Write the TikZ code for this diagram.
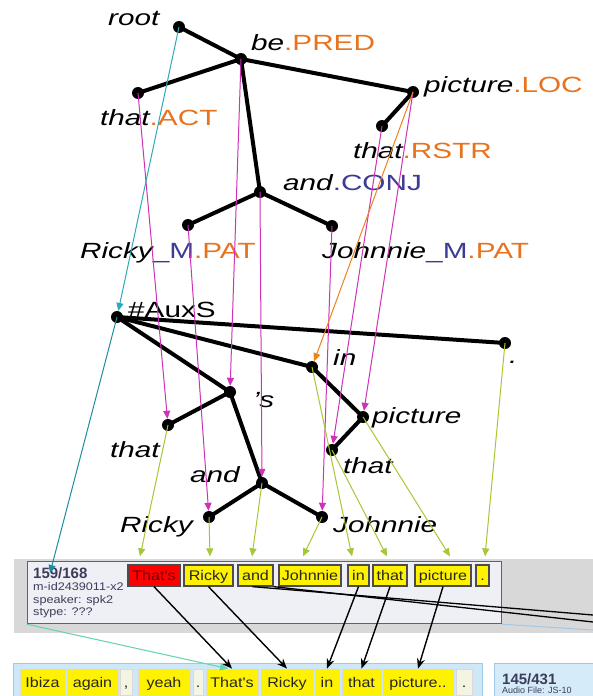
\documentclass[tikz,border=0pt]{standalone}
\usepackage{fontspec}
\setmainfont{Liberation Sans}
\newfontfamily\lbl[FakeStretch=1.35]{Liberation Sans}
\newfontfamily\bxf[FakeStretch=1.15]{Liberation Sans}
\usetikzlibrary{arrows.meta}
\pgfdeclarelayer{bg}
\pgfdeclarelayer{edges}
\pgfsetlayers{bg,edges,main}
\definecolor{orng}{RGB}{232,115,30}
\definecolor{fblue}{RGB}{60,60,150}
\definecolor{mag}{RGB}{205,50,185}
\definecolor{cyn}{RGB}{45,170,185}
\definecolor{cyn2}{RGB}{30,140,160}
\definecolor{ygrn}{RGB}{165,200,55}
\definecolor{oarr}{RGB}{240,130,30}
\definecolor{mint}{RGB}{100,210,170}
\definecolor{bandgray}{RGB}{216,216,216}
\definecolor{panelfill}{RGB}{238,240,245}
\definecolor{panelline}{RGB}{90,90,170}
\definecolor{lblue}{RGB}{207,232,248}
\definecolor{lblueline}{RGB}{160,200,232}
\definecolor{txtdark}{RGB}{60,60,90}
\definecolor{pale}{RGB}{244,244,226}
\newcommand{\fn}[1]{\upshape\color{orng}#1}
\newcommand{\fb}[1]{\upshape\color{fblue}#1}
\begin{document}
\begin{tikzpicture}[x=1pt,y=-1pt,
  dot/.style={circle,fill=black,inner sep=0pt,minimum size=12pt},
  lab/.style={inner sep=0pt,anchor=base west,font=\lbl\fontsize{22}{26}\selectfont},
  tedge/.style={line width=4pt,black},
  magarr/.style={mag,line width=1pt,-{Triangle[length=8pt,width=7pt]}},
  garr/.style={ygrn,line width=1pt,-{Triangle[length=8pt,width=7pt]}},
  carr/.style={cyn,line width=1pt,-{Triangle[length=8pt,width=7pt]}},
  oarrow/.style={oarr,line width=1pt,-{Triangle[length=8pt,width=7pt]}},
  barr/.style={black,line width=1.4pt,-{Stealth[length=10pt,width=8pt]}},
  wbox/.style={draw=black!70,line width=1.3pt,fill=yellow,inner sep=0pt,
    minimum height=21pt,text height=10pt,text depth=0pt,
    font=\bxf\fontsize{14}{16}\selectfont,text=black!85},
  bbox/.style={draw=black!15,line width=0.8pt,fill=yellow,inner sep=0pt,
    minimum height=26pt,text height=10pt,text depth=0pt,
    font=\bxf\fontsize{14}{16}\selectfont,text=black!85},
  small/.style={inner sep=0pt,anchor=base west,text=txtdark,font=\bxf\fontsize{11}{12}\selectfont}
]
\useasboundingbox (0,0) rectangle (593,696);

% ---------- backgrounds ----------
\begin{pgfonlayer}{bg}
  \fill[white] (0,0) rectangle (593,696);
  \fill[bandgray] (14,559) rectangle (593,633);
  \fill[lblue] (13,663) rectangle (482,696);
  \draw[lblueline,line width=0.6pt] (13,696) -- (13,663) -- (482,663) -- (482,696);
\end{pgfonlayer}

\node[draw=panelline,line width=1.2pt,fill=panelfill,anchor=north west,inner sep=0pt,
      minimum width=474pt,minimum height=62pt] (panel) at (27,561) {};
\node[draw=lblueline,line width=0.8pt,fill=lblue!85!white,anchor=north west,inner sep=0pt,
      minimum width=102pt,minimum height=36pt] (rpanel) at (494,663) {};

% panel texts
\node[inner sep=0pt,anchor=base west,text=txtdark,font=\bfseries\fontsize{15}{17}\selectfont] (sid) at (33,578) {159/168};
\node[small] (mid) at (33,590.5) {m-id2439011-x2};
\node[small] (spk) at (33,603) {speaker: spk2};
\node[small] (sty) at (33,615.5) {stype: ???};
\node[inner sep=0pt,anchor=base west,text=txtdark,font=\bfseries\fontsize{15}{17}\selectfont] (rid) at (502,684) {145/431};
\node[inner sep=0pt,anchor=base west,text=txtdark,font=\fontsize{9}{10}\selectfont] (aud) at (502,693.5) {Audio File: JS-10};

% ---------- word boxes (top sentence) ----------
\node[wbox,fill=red,text=red!45!black,minimum width=52pt] (w1) at (154,575.5) {That's};
\node[wbox,minimum width=49pt] (w2) at (208.5,575.5) {Ricky};
\node[wbox,minimum width=35pt] (w3) at (255.5,575.5) {and};
\node[wbox,minimum width=62pt] (w4) at (310,575.5) {Johnnie};
\node[wbox,minimum width=21pt] (w5) at (358.5,575.5) {in};
\node[wbox,minimum width=34pt] (w6) at (390,575.5) {that};
\node[wbox,minimum width=56pt] (w7) at (443,575.5) {picture};
\node[wbox,minimum width=13pt] (w8) at (482.5,575.5) {.};

% ---------- word boxes (bottom sentence) ----------
\node[bbox,minimum width=45pt] (b1) at (42.5,682) {Ibiza};
\node[bbox,minimum width=51pt] (b2) at (92.5,682) {again};
\node[bbox,fill=pale,minimum width=12pt] (b3) at (126,682) {,};
\node[bbox,minimum width=52pt] (b4) at (164,682) {yeah};
\node[bbox,fill=pale,minimum width=10pt] (b5) at (198,682) {.};
\node[bbox,minimum width=52pt] (b6) at (232,682) {That's};
\node[bbox,minimum width=52pt] (b7) at (287,682) {Ricky};
\node[bbox,minimum width=24pt] (b8) at (327,682) {in};
\node[bbox,minimum width=39pt] (b9) at (361.5,682) {that};
\node[bbox,minimum width=70pt] (b10) at (418,682) {picture..};
\node[bbox,fill=pale,minimum width=16pt] (b11) at (464,682) {.};

% ---------- tectogrammatical tree ----------
\node[dot] (root) at (179,27) {};
\node[dot] (be) at (241,59) {};
\node[dot] (tact) at (138,93) {};
\node[dot] (ploc) at (413,92) {};
\node[dot] (trstr) at (382,126) {};
\node[dot] (conj) at (260,192) {};
\node[dot] (rpat) at (188,225) {};
\node[dot] (jpat) at (332,226) {};

\node[lab] (Lroot) at (108,25) {\itshape root};
\node[lab] (Lbe) at (251,50) {\itshape be\fn{.PRED}};
\node[lab] (Ltact) at (100,125) {\itshape that\fn{.ACT}};
\node[lab] (Lploc) at (424,92) {\itshape picture\fn{.LOC}};
\node[lab] (Ltrstr) at (353,158) {\itshape that\fn{.RSTR}};
\node[lab] (Lconj) at (283,190) {\itshape and\fb{.CONJ}};
\node[lab] (Lrpat) at (80,258) {\itshape Ricky\fb{\_M}\fn{.PAT}};
\node[lab] (Ljpat) at (322,258) {\itshape Johnnie\fb{\_M}\fn{.PAT}};

% ---------- analytical tree ----------
\node[dot] (auxs) at (117,317) {};
\node[dot] (per) at (505,343) {};
\node[dot] (ain) at (312,367) {};
\node[dot] (as) at (230,392) {};
\node[dot] (athat) at (168,425) {};
\node[dot] (aand) at (262,483) {};
\node[dot] (aricky) at (209,517) {};
\node[dot] (apic) at (363,417) {};
\node[dot] (athat2) at (332,450) {};
\node[dot] (ajohn) at (322,517) {};

\node[lab] (Lauxs) at (128,317) {\#AuxS};
\node[lab] (Lin) at (333,365) {\itshape in};
\node[lab] (Lper) at (509,363) {\itshape .};
\node[lab] (Ls) at (253,407) {\itshape ’s};
\node[lab] (Lthat) at (110,457) {\itshape that};
\node[lab] (Land) at (190,482) {\itshape and};
\node[lab] (Lricky) at (120,532) {\itshape Ricky};
\node[lab] (Lpic) at (372,423) {\itshape picture};
\node[lab] (Lthat2) at (343,473) {\itshape that};
\node[lab] (Ljohn) at (333,532) {\itshape Johnnie};

% ---------- tree edges ----------
\begin{pgfonlayer}{edges}
  \draw[tedge] (root.center) -- (be.center);
  \draw[tedge] (be.center) -- (tact.center);
  \draw[tedge] (be.center) -- (ploc.center);
  \draw[tedge] (be.center) -- (conj.center);
  \draw[tedge] (ploc.center) -- (trstr.center);
  \draw[tedge] (conj.center) -- (rpat.center);
  \draw[tedge] (conj.center) -- (jpat.center);
  \draw[tedge] (auxs.center) -- (per.center);
  \draw[tedge] (auxs.center) -- (ain.center);
  \draw[tedge] (auxs.center) -- (as.center);
  \draw[tedge] (as.center) -- (athat.center);
  \draw[tedge] (as.center) -- (aand.center);
  \draw[tedge] (aand.center) -- (aricky.center);
  \draw[tedge] (aand.center) -- (ajohn.center);
  \draw[tedge] (ain.center) -- (apic.center);
  \draw[tedge] (apic.center) -- (athat2.center);
\end{pgfonlayer}

% ---------- alignment arrows ----------
\draw[magarr] (tact.center) -- (athat);
\draw[magarr] (be.center) -- (as);
\draw[magarr] (conj.center) -- (aand);
\draw[magarr] (rpat.center) -- (aricky);
\draw[magarr] (jpat.center) -- (ajohn);
\draw[magarr] (ploc.center) -- (apic);
\draw[magarr] (trstr.center) -- (athat2);
\draw[oarrow] (ploc.center) -- (ain);
\draw[carr] (root.center) -- (auxs);
\coordinate (sidtip) at (50,573);
\draw[cyn2,line width=1pt,-{Triangle[length=8pt,width=7pt]}] (auxs.center) -- (sidtip);

\draw[garr] (athat.center) -- ([xshift=-14pt,yshift=8pt]w1.north);
\draw[garr] (aricky.center) -- ([xshift=1.5pt,yshift=8pt]w2.north);
\draw[garr] (aand.center) -- ([xshift=-3.5pt,yshift=8pt]w3.north);
\draw[garr] (ajohn.center) -- ([xshift=-7pt,yshift=8pt]w4.north);
\draw[garr] (ain.center) -- ([xshift=-6.5pt,yshift=8pt]w5.north);
\draw[garr] (athat2.center) -- ([xshift=-3pt,yshift=8pt]w6.north);
\draw[garr] (apic.center) -- ([xshift=7pt,yshift=8pt]w7.north);
\draw[garr] (per.center) -- ([xshift=2.5pt,yshift=8pt]w8.north);

% ---------- sentence alignment ----------
\draw[barr] (w1.south) -- (b6.north);
\draw[barr] (w2.south) -- (b7.north);
\draw[barr] (w5.south) -- (b8.north);
\draw[barr] (w6.south) -- (b9.north);
\draw[barr] (w7.south) -- (b10.north);
\coordinate (offA) at (593,622);
\coordinate (offB) at (593,615);
\coordinate (offC) at (593,630);
\draw[black,line width=1.3pt] (w3.south east) -- (offA);
\draw[black,line width=1.3pt] ([xshift=-3pt]w3.south) -- (offB);
\draw[lblueline,line width=1pt] (panel.south east) -- (offC);
\draw[mint,line width=1pt,-{Triangle[length=8pt,width=7pt]}] (panel.south west) -- ([xshift=-4pt]b6.north);
\end{tikzpicture}
\end{document}
